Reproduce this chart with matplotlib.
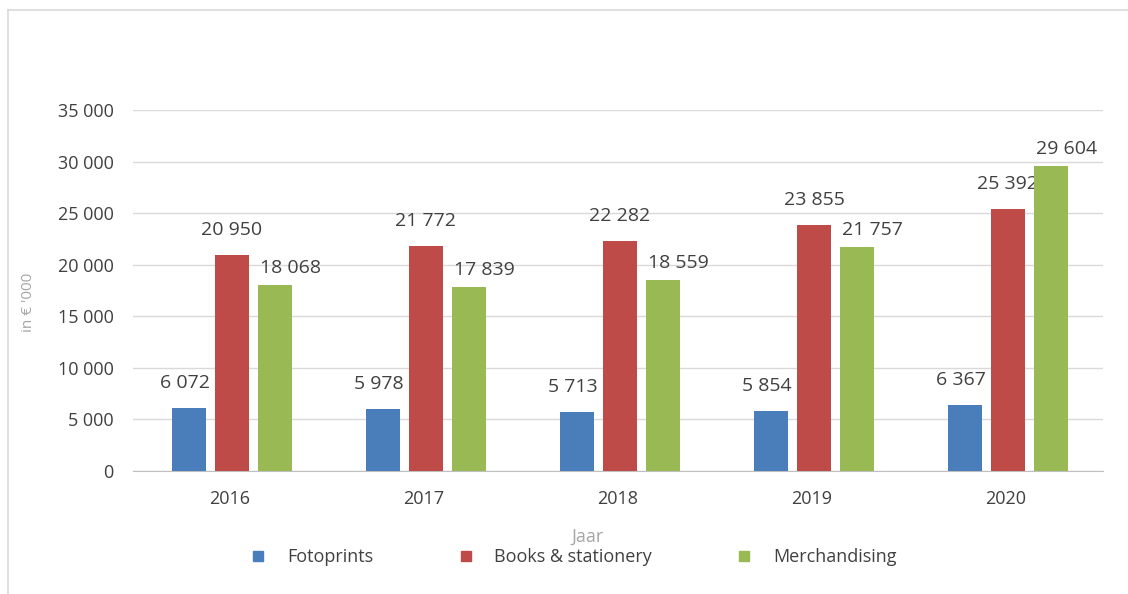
import matplotlib.pyplot as plt
import numpy as np
from matplotlib.lines import Line2D

years = ["2016", "2017", "2018", "2019", "2020"]
fotoprints = [6072, 5978, 5713, 5854, 6367]
books = [20950, 21772, 22282, 23855, 25392]
merchandising = [18068, 17839, 18559, 21757, 29604]
series_names = ["Fotoprints", "Books & stationery", "Merchandising"]

colors = ["#4A7EBB", "#BE4B48", "#98B954"]
text_col = "#404040"
grid_col = "#D9D9D9"

plt.rcParams["font.family"] = ["Open Sans", "DejaVu Sans"]


def fmt(v):
    return f"{v:,}".replace(",", " ")


W, H = 1128, 594
fig = plt.figure(figsize=(W / 100, H / 100), dpi=100)
ax = fig.add_axes([133 / W, 1 - 471 / H, (1103 - 133) / W, (471 - 110) / H])

x = np.arange(len(years))
width = 0.175
step = 0.222
# label nudges per series, in points (dx, dy)
nudges = [(-3, 18), (0, 18), (11, 12)]

for i, (vals, name) in enumerate(zip([fotoprints, books, merchandising], series_names)):
    pos = x + (i - 1) * step + 0.01
    ax.bar(pos, vals, width, color=colors[i], zorder=3)
    for px, v in zip(pos, vals):
        ax.annotate(fmt(v), xy=(px, v), xytext=nudges[i], textcoords="offset points",
                    ha="center", va="center", fontsize=14, color=text_col)

ax.set_xlim(-0.5, len(years) - 0.5)
ax.set_ylim(0, 35000)
ax.set_yticks(range(0, 35001, 5000))
ax.set_yticklabels([fmt(t) for t in range(0, 35001, 5000)])
ax.set_xticks(x)
ax.set_xticklabels(years)
ax.tick_params(length=0, labelsize=13, colors=text_col)
ax.tick_params(axis="y", pad=14)
ax.tick_params(axis="x", pad=14)
ax.grid(axis="y", color=grid_col, linewidth=1, zorder=0)
for s in ["top", "right", "left"]:
    ax.spines[s].set_visible(False)
ax.spines["bottom"].set_color("#BFBFBF")

fig.text(28 / W, 1 - 302 / H, "in € '000", rotation=90, ha="center", va="center",
         fontsize=11, color="#A6A6A6")
fig.text(588 / W, 1 - 537 / H, "Jaar", ha="center", va="center",
         fontsize=13, color="#A6A6A6")

handles = [Line2D([], [], marker="s", linestyle="none", markersize=7, color=c) for c in colors]
fig.legend(handles, series_names, loc="center", bbox_to_anchor=(573 / W, 1 - 557 / H),
           ncol=3, frameon=False, fontsize=13, labelcolor=text_col,
           handletextpad=1.1, columnspacing=4.6, handlelength=1.0)

# outer chart border
fig.add_artist(Line2D([8 / W, 8 / W], [0, 1 - 10 / H], color=grid_col, linewidth=1.2,
                      transform=fig.transFigure))
fig.add_artist(Line2D([8 / W, 1], [1 - 10 / H, 1 - 10 / H], color=grid_col, linewidth=1.2,
                      transform=fig.transFigure))

fig.savefig("out.png", dpi=100)
